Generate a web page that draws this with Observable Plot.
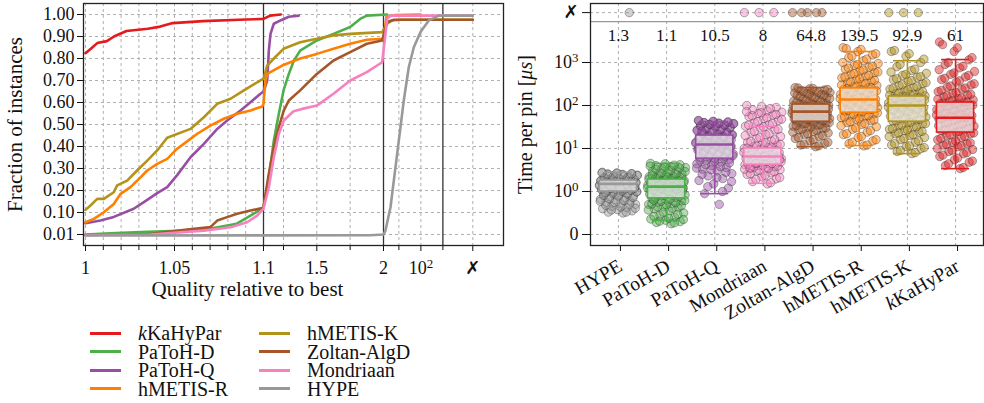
<!DOCTYPE html>
<html><head><meta charset="utf-8">
<script src="https://cdn.jsdelivr.net/npm/d3@7"></script>
<script src="https://cdn.jsdelivr.net/npm/@observablehq/plot@0.6"></script>
<style>
body{margin:0;background:#fff;}
#wrap{position:relative;width:984px;height:403px;overflow:hidden;background:#fff;font-family:"Liberation Serif","DejaVu Serif",serif;color:#111;}
#left{position:absolute;left:0;top:0;}
#right{position:absolute;left:500px;top:0;}
.lg{position:absolute;font-size:20px;line-height:18px;height:18px;white-space:nowrap;}
.sw{position:absolute;height:3px;}
</style></head><body>
<div id="wrap"><div id="left"></div><div id="right"></div><div id="legend"></div></div>
<script>
// ---------- data ----------
const algorithms = ["kKaHyPar","PaToH-D","PaToH-Q","hMETIS-R","hMETIS-K","Zoltan-AlgD","Mondriaan","HYPE"];
const colors = ["#e41a1c","#4daf4a","#984ea3","#ff7f00","#b3931a","#a65628","#f781bf","#999999"];
const TIMEOUT = Infinity;

// performance profiles: [quality ratio, fraction of instances]
const profileKaHyPar = [[1.0,.824],[1.003,.844],[1.0066,.87],[1.012,.879],[1.016,.90],[1.023,.925],[1.035,.935],[1.042,.945],[1.049,.961],[1.066,.970],[1.09,.977],[1.1,.98],[1.15,.995],[1.23,1.0]];
const profilePaToHD = [[1.0,.01],[1.014,.015],[1.031,.02],[1.048,.024],[1.0665,.029],[1.085,.054],[1.0946,.095],[1.1,.124],[1.14,.26],[1.1775,.427],[1.215,.549],[1.2525,.66],[1.29,.73],[1.3275,.79],[1.375,.836],[1.5,.882],[1.625,.912],[1.75,.943],[1.825,.98],[1.875,.995],[2.94,1.0]];
const profilePaToHQ = [[1.0,.056],[1.0084,.067],[1.0159,.082],[1.0271,.117],[1.0328,.147],[1.0403,.188],[1.0459,.215],[1.0515,.27],[1.059,.351],[1.0665,.412],[1.074,.48],[1.0796,.518],[1.0871,.564],[1.0927,.601],[1.0983,.64],[1.1,.65],[1.128,.70],[1.14,.836],[1.1525,.912],[1.1773,.958],[1.2275,.973],[1.29,.99],[1.365,.995]];
const profileHMetisR = [[1.0,.06],[1.0047,.074],[1.0103,.101],[1.0159,.139],[1.0197,.185],[1.0253,.215],[1.0309,.26],[1.0347,.291],[1.0403,.321],[1.0459,.344],[1.0515,.39],[1.0552,.412],[1.0628,.458],[1.0702,.495],[1.0777,.526],[1.0852,.549],[1.0927,.564],[1.0993,.582],[1.1,.594],[1.115,.70],[1.128,.73],[1.24,.768],[1.375,.80],[1.5,.821],[1.625,.844],[1.75,.867],[1.875,.885],[2.0,.89],[2.74,.99],[7.0,.998],[96,1.0]];
const profileHMetisK = [[1.0,.112],[1.0028,.132],[1.0066,.162],[1.0103,.162],[1.0159,.192],[1.0178,.223],[1.0234,.245],[1.029,.291],[1.0347,.336],[1.0403,.382],[1.0459,.44],[1.059,.48],[1.0665,.533],[1.074,.594],[1.0815,.617],[1.089,.655],[1.0965,.692],[1.1,.708],[1.128,.768],[1.1775,.80],[1.25,.844],[1.375,.874],[1.5,.89],[1.625,.905],[1.75,.912],[1.99,.92],[2.94,.958],[4.98,.973],[11.9,.976],[TIMEOUT,.976]];
const profileZoltan = [[1.0,.008],[1.0365,.012],[1.0571,.03],[1.0702,.04],[1.074,.067],[1.0796,.081],[1.0852,.095],[1.0927,.109],[1.0993,.12],[1.1,.124],[1.14,.276],[1.1775,.397],[1.215,.488],[1.2525,.564],[1.29,.609],[1.375,.655],[1.5,.73],[1.625,.791],[1.75,.829],[1.875,.867],[1.99,.882],[2.94,.966],[5.9,.976],[TIMEOUT,.976]];
const profileMondriaan = [[1.0,.008],[1.0365,.01],[1.0665,.026],[1.0815,.04],[1.0908,.06],[1.0964,.087],[1.1,.117],[1.14,.215],[1.1775,.351],[1.215,.458],[1.2525,.518],[1.325,.56],[1.39,.571],[1.5,.586],[1.625,.64],[1.75,.70],[1.875,.738],[1.99,.783],[2.46,.912],[2.94,.98],[4.16,.995],[TIMEOUT,.995]];
const profileHYPE = [[1.0,.006],[1.9,.007],[2.0,.01],[2.46,.026],[4.16,.124],[7.02,.306],[11.86,.488],[16.7,.609],[28.2,.76],[47.7,.851],[96.2,.92],[229,.973],[653,.995],[TIMEOUT,.995]];
const profiles = [profileKaHyPar,profilePaToHD,profilePaToHQ,profileHMetisR,profileHMetisK,profileZoltan,profileMondriaan,profileHYPE];

const fractionTicks = [0.01,0.1,0.2,0.3,0.4,0.5,0.6,0.7,0.8,0.9,1.0];
const qualityMajor = [1,1.05,1.1,1.5,2,100,TIMEOUT];
const qualityMajorLabels = ["1","1.05","1.1","1.5","2","10^2","✗"];
const qualityMinor = [1.01,1.02,1.03,1.04,1.06,1.07,1.08,1.09,1.25,1.75,10,1000];
const qualityBreaks = [1.1,2,1000];

// running time box plots (time per pin in µs)
const boxCategories = ["HYPE","PaToH-D","PaToH-Q","Mondriaan","Zoltan-AlgD","hMETIS-R","hMETIS-K","kKaHyPar"];
const boxLow    = [0.63,0.33,0.95,1.55,11,11.7,7.6,3.4];
const boxQ1     = [1.0,0.84,5.8,4.2,42,68,42,23.5];
const boxMedian = [1.5,1.3,12.4,6.5,72,138,100,52];
const boxQ3     = [1.8,1.9,20,10,105,250,162,117];
const boxHigh   = [2.8,4.5,42,32.5,262,1800,1100,1170];
const geoMeans  = [1.3,1.1,10.5,8,64.8,139.5,92.9,61];

const timesHYPE = [0.5,0.52,0.55,0.58,0.6,0.63,0.66,0.7,0.72,0.75,0.78,0.8,0.82,0.85,0.88,0.9,0.92,0.95,0.97,1.0,1.0,1.05,1.08,1.1,1.12,1.15,1.2,1.22,1.25,1.3,1.32,1.35,1.4,1.42,1.45,1.48,1.5,1.5,1.55,1.58,1.6,1.62,1.65,1.7,1.72,1.75,1.8,1.85,1.9,1.95,2.0,2.1,2.2,2.3,2.4,2.5,2.55,2.6,2.7,2.8,
  0.52,0.57,0.61,0.64,0.68,0.71,0.74,0.77,0.79,0.83,0.86,0.89,0.91,0.94,0.96,0.99,1.01,1.03,1.06,1.09,1.11,1.14,1.17,1.19,1.23,1.27,1.29,1.33,1.37,1.39,1.43,1.46,1.49,1.52,1.54,1.57,1.59,1.63,1.67,1.69,1.73,1.77,1.82,1.87,1.92,1.98,2.05,2.15,2.25,2.35,2.45,2.52,2.58,2.65,2.72,1.45,1.35,1.25,1.15,0.98,TIMEOUT];
const timesPaToHD = [0.25,0.28,0.3,0.33,0.36,0.4,0.45,0.5,0.55,0.6,0.62,0.65,0.7,0.72,0.75,0.78,0.8,0.84,0.86,0.9,0.92,0.95,1.0,1.02,1.05,1.1,1.12,1.15,1.2,1.25,1.3,1.3,1.35,1.4,1.45,1.5,1.55,1.6,1.65,1.7,1.75,1.8,1.9,1.95,2.0,2.1,2.2,2.3,2.5,2.6,2.8,3.0,3.2,3.4,3.6,3.8,4.0,4.2,4.4,4.5,
  0.27,0.31,0.35,0.38,0.42,0.47,0.52,0.57,0.61,0.64,0.67,0.69,0.71,0.74,0.77,0.79,0.82,0.85,0.88,0.91,0.94,0.97,0.99,1.03,1.07,1.09,1.13,1.17,1.22,1.27,1.33,1.38,1.42,1.48,1.52,1.58,1.62,1.68,1.72,1.78,1.85,1.92,1.98,2.05,2.15,2.25,2.4,2.55,2.7,2.9,3.1,3.3,3.5,3.7,3.9,4.1,1.4,1.2,1.0,0.8];
const timesPaToHQ = [0.7,0.95,1.2,1.5,1.8,2.0,2.3,2.6,3.0,3.3,3.6,4.0,4.4,4.8,5.2,5.6,5.8,6.2,6.6,7.0,7.5,8.0,8.5,9.0,9.5,10,10.5,11,11.5,12,12.4,13,13.5,14,15,15.5,16,17,18,19,20,21,22,23,24,25,27,28,30,31,33,34,35,36,38,39,40,41,42,44,
  1.0,1.3,1.7,2.1,2.5,2.8,3.2,3.5,3.8,4.2,4.6,5.0,5.4,5.9,6.4,6.8,7.2,7.7,8.2,8.7,9.2,9.8,10.2,10.8,11.2,11.8,12.2,12.7,13.2,13.8,14.5,15.2,16.5,17.5,18.5,19.5,20.5,21.5,22.5,23.5,24.5,26,27.5,29,30.5,32,33.5,35,36.5,37.5,38.5,40,41.5,43,45,12,14,16,18,25];
const timesMondriaan = [1.5,1.7,2.0,2.2,2.5,2.7,3.0,3.2,3.4,3.6,3.8,4.0,4.2,4.4,4.6,4.8,5.0,5.2,5.4,5.6,5.8,6.0,6.2,6.5,6.7,7.0,7.3,7.6,8.0,8.3,8.6,9.0,9.5,10,10.5,11,12,13,14,15,17,19,21,24,27,30,33,36,40,45,50,55,60,65,70,75,80,90,95,100,
  1.6,1.9,2.1,2.4,2.6,2.9,3.1,3.3,3.5,3.7,3.9,4.1,4.3,4.5,4.7,4.9,5.1,5.3,5.5,5.7,5.9,6.1,6.4,6.6,6.9,7.2,7.5,7.8,8.1,8.5,8.8,9.2,9.7,10.2,10.8,11.5,12.5,13.5,14.5,16,18,20,22,25,28,32,35,38,42,48,52,58,62,68,72,85,4.5,5.5,6.5,3.5,TIMEOUT,TIMEOUT,TIMEOUT];
const timesZoltan = [11,12,13,15,17,19,21,23,25,27,29,31,33,35,37,39,41,43,45,47,50,52,54,56,58,60,62,64,66,68,70,72,74,76,78,80,83,86,90,93,96,100,104,108,112,118,125,130,140,150,160,170,180,190,200,210,220,230,245,260,
  11.5,12.5,14,16,18,20,22,24,26,28,30,32,34,36,38,40,42,44,46,48,49,51,53,55,57,59,61,63,65,67,69,71,73,75,77,79,82,85,88,91,95,98,102,106,110,115,120,128,135,145,155,165,175,185,195,205,215,235,250,255,TIMEOUT,TIMEOUT,TIMEOUT,TIMEOUT,TIMEOUT];
const timesHMetisR = [11.5,13,15,18,21,24,28,32,36,40,44,48,52,56,60,65,70,75,80,85,90,96,102,108,114,120,127,134,140,148,156,164,172,180,190,200,212,225,240,255,270,290,310,340,370,400,440,480,530,580,640,700,780,860,950,1100,1300,1500,1800,2200,
  12,14,16,19,22,26,30,34,38,42,46,50,54,58,62,67,72,77,82,88,93,99,105,111,117,124,130,137,144,152,160,168,176,185,195,206,218,232,248,262,280,300,325,355,385,420,460,500,550,600,670,740,820,900,1000,1200,1400,1600,2000,2100];
const timesHMetisK = [7.6,8.5,10,11,12,14,16,18,20,22,24,26,28,31,34,37,40,43,46,50,54,58,62,66,70,75,80,85,90,95,100,105,110,115,120,126,132,138,145,152,160,168,178,190,205,220,240,260,290,320,360,400,450,500,560,650,800,1000,1400,1800,
  8,9,10.5,11.5,13,15,17,19,21,23,25,27,29,32,35,38,41,44,48,52,56,60,64,68,72,77,82,87,92,97,102,107,112,117,123,129,135,141,148,156,164,173,184,197,212,230,250,275,305,340,380,420,470,530,600,700,900,1200,1600,1900,TIMEOUT,TIMEOUT,TIMEOUT];
const timesKaHyPar = [3.4,4.0,4.8,5.5,6.5,7.5,8.5,9.5,11,12,13,14,16,18,20,22,24,26,28,30,33,36,39,42,45,48,52,55,58,62,66,70,75,80,86,92,98,105,112,118,126,135,145,160,175,190,210,240,270,300,350,400,460,530,620,750,900,1150,1800,3000,
  3.6,4.4,5.1,6,7,8,9,10,11.5,12.5,13.5,15,17,19,21,23,25,27,29,31,34,37,40,43,47,50,53,57,60,64,68,72,77,83,89,95,102,108,115,122,130,140,150,168,182,200,225,255,285,320,375,430,500,570,680,820,1000,1300,2200,2600];
const timesByCategory = [timesHYPE,timesPaToHD,timesPaToHQ,timesMondriaan,timesZoltan,timesHMetisR,timesHMetisK,timesKaHyPar];
const timeTicks = [0,1,10,100,1000,TIMEOUT];
const timeTickLabels = ["0","10^0","10^1","10^2","10^3","✗"];

// ---------- scales (piecewise axes of the figure) ----------
const qx = r => !isFinite(r) ? 387.3 : r <= 1.1 ? (r-1)*1780 : r <= 2 ? 178 + (r-1.1)/0.9*120 : 298 + 22*Math.log10(r/2);
const fy = f => f >= 0.1 ? 10*f : (f-0.01)/0.09;
const tv = t => !isFinite(t) ? 4.16 : t >= 1 ? Math.log10(t) : t - 1;

const FONT = '"Liberation Serif","DejaVu Sans",serif';
const dash = {stroke:"#b0b0b0", strokeOpacity:1, strokeDasharray:"3,3", strokeWidth:1};

// ---------- left: performance profile ----------
const profileRows = profiles.flatMap((p,k) => p.map(([r,f]) => ({alg: algorithms[k], r, f})));
const fracLabel = new Map(fractionTicks.map(f => [fy(f), f.toFixed(2)]));
const qualLabel = new Map(qualityMajor.map((r,i) => [qx(r), qualityMajorLabels[i]]));
const gridQ = [...qualityMajor, ...qualityMinor].filter(r => !qualityBreaks.includes(r));

const left = Plot.plot({
  width: 510, height: 300, marginLeft: 83, marginRight: 7, marginTop: 3, marginBottom: 55,
  x: {domain: [-2, 418]}, y: {domain: [-0.5, 10.5]},
  color: {domain: algorithms, range: colors},
  style: {fontFamily: FONT, fontSize: "18px", background: "transparent", color: "#111", overflow: "visible"},
  marks: [
    Plot.gridY(fractionTicks.map(fy), dash),
    Plot.gridX(gridQ.map(qx), dash),
    Plot.ruleX(qualityBreaks.map(qx), {stroke: "#333", strokeWidth: 1.3}),
    Plot.line(profileRows, {x: d => qx(d.r), y: d => fy(d.f), z: "alg", stroke: "alg", strokeWidth: 2.6}),
    Plot.axisY(fractionTicks.map(fy), {tickFormat: u => fracLabel.get(u), tickSize: 6, tickPadding: 3, label: null}),
    Plot.axisX(qualityMajor.map(qx), {tickFormat: u => qualLabel.get(u), tickSize: 6, tickPadding: 10, label: null}),
    Plot.axisX(qualityMinor.map(qx), {tickFormat: () => "", tickSize: 5, label: null}),
    Plot.frame({stroke: "#222", strokeWidth: 1.3}),
    Plot.text(["Fraction of instances"], {frameAnchor: "left", textAnchor: "middle", lineAnchor: "middle", rotate: -90, dx: -68, fontSize: 21}),
    Plot.text(["Quality relative to best"], {frameAnchor: "bottom", textAnchor: "middle", lineAnchor: "middle", dx: -46, dy: 44, fontSize: 21})
  ]
});
document.getElementById("left").appendChild(left);

// ---------- right: running time ----------
const jitter = i => (((i + 1) * 0.6180339887) % 1 - 0.5) * 0.8;
const pointRows = timesByCategory.flatMap((vals, k) => vals.map((t, i) => ({k, t, j: jitter(i), alg: boxCategories[k]})));
const boxRows = boxCategories.map((alg, k) => ({k, alg, lo: boxLow[k], q1: boxQ1[k], med: boxMedian[k], q3: boxQ3[k], hi: boxHigh[k], gm: geoMeans[k]}));
const timeLabel = new Map(timeTicks.map((t,i) => [tv(t), timeTickLabels[i]]));
const HB = 0.385, CAP = 0.29;

const right = Plot.plot({
  width: 484, height: 330, marginLeft: 90, marginRight: 1, marginTop: 3, marginBottom: 85,
  x: {domain: [-0.58, 7.58]}, y: {domain: [-1.256, 4.372]},
  color: {domain: algorithms, range: colors},
  style: {fontFamily: FONT, fontSize: "18px", background: "transparent", color: "#111", overflow: "visible"},
  marks: [
    Plot.gridY(timeTicks.map(tv), dash),
    Plot.gridX(d3.range(boxCategories.length), dash),
    Plot.ruleY([(tv(TIMEOUT) + tv(5000)) / 2 + 0.02], {stroke: "#999", strokeWidth: 1.4}),
    Plot.dot(pointRows, {x: d => d.k + d.j, y: d => tv(d.t), r: 4.2, fill: "alg", fillOpacity: 0.45, stroke: "#333", strokeOpacity: 0.5, strokeWidth: 0.8}),
    Plot.rect(boxRows, {x1: d => d.k - HB, x2: d => d.k + HB, y1: d => tv(d.q1), y2: d => tv(d.q3), fill: "#eeeeee", fillOpacity: 0.72}),
    Plot.ruleX(boxRows, {x: "k", y1: d => tv(d.lo), y2: d => tv(d.q1), stroke: "alg", strokeWidth: 1.6}),
    Plot.ruleX(boxRows, {x: "k", y1: d => tv(d.q3), y2: d => tv(d.hi), stroke: "alg", strokeWidth: 1.6}),
    Plot.ruleY(boxRows, {y: d => tv(d.lo), x1: d => d.k - CAP, x2: d => d.k + CAP, stroke: "alg", strokeWidth: 1.6}),
    Plot.ruleY(boxRows, {y: d => tv(d.hi), x1: d => d.k - CAP, x2: d => d.k + CAP, stroke: "alg", strokeWidth: 1.6}),
    Plot.rect(boxRows, {x1: d => d.k - HB, x2: d => d.k + HB, y1: d => tv(d.q1), y2: d => tv(d.q3), fill: "none", stroke: "alg", strokeWidth: 1.6}),
    Plot.ruleY(boxRows, {y: d => tv(d.med), x1: d => d.k - HB, x2: d => d.k + HB, stroke: "alg", strokeWidth: 2.6}),
    Plot.text(boxRows, {x: "k", text: d => String(d.gm), frameAnchor: "top", lineAnchor: "middle", dy: 32, fill: "#111", fontSize: 17}),
    Plot.axisY(timeTicks.map(tv), {tickFormat: v => timeLabel.get(v), tickSize: 8, tickPadding: 4, label: null}),
    Plot.axisX(d3.range(boxCategories.length), {tickFormat: i => boxCategories[i], tickRotate: -30, tickSize: 6, tickPadding: 13, dx: 2, fontSize: 19.5, label: null}),
    Plot.frame({stroke: "#222", strokeWidth: 1.3}),
    Plot.text(["Time per pin [μs]"], {frameAnchor: "left", textAnchor: "middle", lineAnchor: "middle", rotate: -90, dx: -65, fontSize: 20})
  ]
});
document.getElementById("right").appendChild(right);

// ---------- text touch-ups (superscripts, italics) ----------
for (const t of document.querySelectorAll("svg text")) {
  const s = t.textContent;
  let m;
  if ((m = s.match(/^10\^(\d)$/))) t.innerHTML = `10<tspan dy="-0.45em" font-size="0.72em">${m[1]}</tspan>`;
  else if (s === "kKaHyPar") t.innerHTML = `<tspan font-style="italic">k</tspan>KaHyPar`;
  else if (s === "Time per pin [μs]") t.innerHTML = `Time per pin [<tspan font-style="italic">μs</tspan>]`;
  else if (s === "✗") { t.setAttribute("font-family", "DejaVu Sans"); t.setAttribute("font-weight", "bold"); }
}

// ---------- legend ----------
const legend = document.getElementById("legend");
algorithms.forEach((a, i) => {
  const col = Math.floor(i / 4), row = i % 4;
  const cy = 333 + row * 18.5;
  const sx = col ? 259 : 90, tx = col ? 307 : 138;
  const sw = document.createElement("div");
  sw.className = "sw";
  sw.style.cssText = `left:${sx}px;top:${cy - 1.5}px;width:31px;background:${colors[i]}`;
  legend.appendChild(sw);
  const lb = document.createElement("div");
  lb.className = "lg";
  lb.style.cssText = `left:${tx}px;top:${cy - 9}px`;
  lb.innerHTML = a === "kKaHyPar" ? "<i>k</i>KaHyPar" : a;
  legend.appendChild(lb);
});
</script>
</body></html>
